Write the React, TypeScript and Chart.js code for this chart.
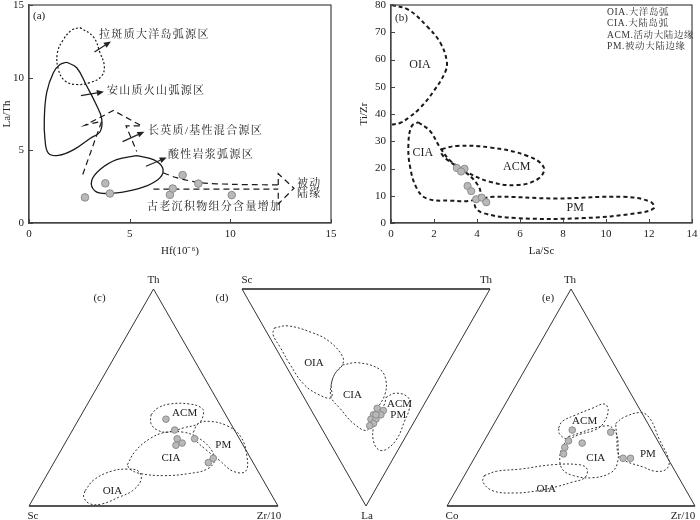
import React, { useEffect, useRef } from "react";
import { Chart, registerables } from "chart.js";

Chart.register(...registerables);

const FONT = "'Liberation Serif', 'Times New Roman', 'Noto Serif CJK SC', 'Noto Sans CJK SC', serif";
const INK = "#222";
const PT_FILL = "#b9b9b9";
const PT_EDGE = "#8c8c8c";

// ---------------- (a) Hf vs La/Th ----------------
const aHf = [2.78, 3.79, 4.02, 7.0, 7.14, 7.63, 8.41, 10.07];
const aLaTh = [1.76, 2.73, 2.03, 1.94, 2.37, 3.3, 2.71, 1.92];
const aRange = { xMin: 0, xMax: 15, xStep: 5, yMin: 0, yMax: 15, yStep: 5 };
const aTholeiite = [[2.53, 13.45], [3.2, 12.8], [3.53, 11.7], [3.74, 10.8], [3.6, 10.1], [3.03, 9.66], [2.37, 9.53], [1.79, 9.77], [1.46, 10.56], [1.41, 11.7], [1.7, 12.6], [2.12, 13.27]];
const aAndesite = [[1.87, 11.06], [2.37, 10.68], [2.86, 9.44], [3.36, 8.08], [3.61, 7.18], [3.53, 6.28], [3.03, 5.82], [2.2, 5.03], [1.46, 4.65], [0.96, 4.81], [0.79, 5.82], [0.76, 7.18], [0.88, 8.98], [1.21, 10.34], [1.54, 10.9]];
const aFelsic = [[5.35, 4.63], [6.18, 4.36], [6.64, 3.79], [6.51, 3.12], [5.84, 2.55], [4.85, 2.17], [3.86, 2.03], [3.28, 2.21], [3.11, 2.89], [3.53, 3.68], [4.35, 4.36]];
const aMixed = [[2.67, 3.34], [3.61, 7.0], [2.78, 6.73], [4.19, 7.74], [5.6, 6.68], [4.82, 6.68], [5.35, 4.92]];
const aPassiveUpper = [[6.67, 3.45], [7.33, 3.12], [8.49, 2.78], [10.15, 2.66], [12.38, 2.62]];
const aPassiveLower = [[6.18, 2.33], [12.38, 2.33]];
const aPassiveHead = [[12.38, 2.62], [12.38, 3.39], [13.16, 2.39], [12.38, 1.31], [12.38, 2.33]];
const aNotes = [
  { x: 0.2, y: 14.26, t: "(a)", size: 11 },
  { x: 3.48, y: 12.9, t: "拉斑质大洋岛弧源区", ls: 1.3 },
  { x: 3.87, y: 9.05, t: "安山质火山弧源区", ls: 1.3 },
  { x: 5.91, y: 6.35, t: "长英质/基性混合源区", ls: 1.3 },
  { x: 6.9, y: 4.66, t: "酸性岩浆弧源区", ls: 1.3 },
  { x: 5.86, y: 1.08, t: "古老沉积物组分含量增加", ls: 1.3 },
  { x: 13.31, y: 2.7, t: "被动", ls: 1.3 },
  { x: 13.31, y: 1.96, t: "陆缘", ls: 1.3 },
];
const aArrows = [[3.25, 11.77, 4.07, 12.49], [2.58, 8.76, 3.72, 9.03], [4.65, 5.6, 5.73, 6.28], [5.81, 3.9, 6.84, 4.5]];

// ---------------- (b) La/Sc vs Ti/Zr ----------------
const bLaSc = [3.06, 3.42, 3.26, 3.56, 3.73, 3.96, 4.22, 4.43];
const bTiZr = [20.2, 19.9, 18.9, 13.6, 11.7, 8.7, 9.3, 7.6];
const bRange = { xMin: 0, xMax: 14, xStep: 2, yMin: 0, yMax: 80, yStep: 10 };
const bOIA = [[0.03, 80], [0.8, 78.3], [1.66, 72.3], [2.28, 66.3], [2.59, 59.6], [2.52, 55.4], [1.97, 48.2], [1.35, 42.2], [0.81, 38.6], [0.42, 36.7], [0, 36.1]];
const bCIA = [[1.27, 37], [1.82, 33.7], [2.28, 27.7], [2.75, 22.9], [3.37, 19.3], [3.99, 14.5], [4.15, 10.8], [3.84, 8.4], [2.75, 8.2], [1.66, 9.0], [1.2, 12.7], [0.89, 20.5], [0.81, 28.9], [0.96, 35.5]];
const bACM = [[2.36, 27.1], [3.06, 28.3], [4.61, 27.7], [6.32, 24.7], [7.1, 20.5], [6.86, 16.3], [5.85, 13.9], [4.61, 15.1], [3.52, 18.7], [2.67, 22.9], [2.36, 25.3]];
const bPM = [[3.99, 8.4], [4.77, 9.6], [7.72, 9.0], [10.82, 9.6], [12.07, 7.8], [12.22, 5.4], [11.44, 3.6], [8.96, 1.8], [5.85, 1.8], [4.3, 3.6], [3.91, 6.0]];
const bNotes = [
  { x: 0.19, y: 75.3, t: "(b)", size: 11 },
  { x: 1.35, y: 58, t: "OIA", size: 12, align: "center" },
  { x: 1.48, y: 25.9, t: "CIA", size: 12, align: "center" },
  { x: 5.85, y: 20.5, t: "ACM", size: 12, align: "center" },
  { x: 8.57, y: 5.4, t: "PM", size: 12, align: "center" },
  { x: 10.05, y: 77.1, t: "OIA.大洋岛弧", size: 9.5, ls: 0.6, color: "#333" },
  { x: 10.05, y: 73.1, t: "CIA.大陆岛弧", size: 9.5, ls: 0.6, color: "#333" },
  { x: 10.05, y: 68.7, t: "ACM.活动大陆边缘", size: 9.5, ls: 0.6, color: "#333" },
  { x: 10.05, y: 64.7, t: "PM.被动大陆边缘", size: 9.5, ls: 0.6, color: "#333" },
];

// ---------------- ternary data: [apex %, right-corner %] ----------------
// (c) Th–Sc–Zr/10 : [Th, Zr/10]
const cPts = [[40, 35], [35, 41], [31, 44], [29, 47], [28, 45], [31, 51], [22, 63], [20, 62]];
const cACM = [[42, 28], [45, 29], [47, 33], [47, 41], [45, 47], [42, 49], [38, 49], [36, 44], [34, 39], [35, 34], [38, 30]];
const cCIA = [[19, 30], [25, 30], [31, 33], [34, 38], [34, 45], [32, 51], [27, 59], [21, 64], [17, 63], [15, 57], [14, 47], [15, 37], [17, 32]];
const cPM = [[34, 49], [38, 49], [39, 53], [37, 61], [32, 69], [23, 76], [16, 79], [16, 74], [21, 66], [26, 58], [31, 51]];
const cOIA = [[7, 19], [12, 20], [16, 25], [17, 31], [16, 36], [12, 39], [7, 38], [4, 34], [1, 29], [1, 24], [4, 20]];
const cLabels = [{ p: [43, 41], t: "ACM" }, { p: [22, 46], t: "CIA" }, { p: [28, 64], t: "PM" }, { p: [7, 30], t: "OIA" }];
const cCorners = ["Th", "Sc", "Zr/10"];

// (d) Sc–Th–La (inverted) : [La, Th]
const dPts = [[55, 27], [56, 29], [58, 27], [58, 24], [60, 22], [60, 24], [62, 22], [63, 20], [58, 25]];
const dOIA = [[18, 4], [17, 10], [20, 18], [24, 23], [31, 25], [35, 23], [39, 18], [44, 14], [50, 11], [49, 7], [44, 3], [35, 2], [27, 2], [21, 2]];
const dCIA = [[35, 23], [34, 30], [37, 37], [42, 37], [49, 33], [57, 25], [65, 18], [62, 14], [55, 12], [50, 11], [44, 14], [39, 18]];
const dACMPM = [[50, 33], [48, 38], [50, 42], [55, 40], [61, 35], [69, 28], [74, 21], [74, 18], [70, 18], [64, 21], [58, 26], [53, 31]];
const dLabels = [{ p: [34, 12], t: "OIA" }, { p: [49, 20], t: "CIA" }, { p: [53, 37], t: "ACM" }, { p: [58, 34], t: "PM" }];
const dCorners = ["La", "Sc", "Th"];

// (e) Th–Co–Zr/10 : [Th, Zr/10]
const ePts = [[35, 33], [30, 34], [27, 34], [24, 35], [29, 40], [34, 49], [22, 60], [22, 63]];
const eACM = [[36, 27], [39, 27], [42, 31], [45, 36], [47, 40], [44, 43], [38, 44], [35, 42], [33, 37], [31, 33], [33, 29]];
const eCIA = [[32, 33], [37, 46], [34, 51], [28, 55], [19, 59], [15, 58], [13, 52], [14, 44], [17, 38], [23, 34], [28, 33]];
const eOIA = [[14, 8], [16, 12], [17, 21], [19, 33], [19, 44], [17, 48], [13, 49], [11, 45], [9, 40], [7, 33], [6, 24], [7, 15], [11, 9]];
const ePM = [[38, 49], [41, 51], [43, 57], [40, 62], [31, 70], [21, 79], [17, 80], [16, 76], [18, 70], [21, 61], [24, 57], [31, 53]];
const eLabels = [{ p: [39, 36], t: "ACM" }, { p: [22, 49], t: "CIA" }, { p: [24, 69], t: "PM" }, { p: [8, 36], t: "OIA" }];
const eCorners = ["Th", "Co", "Zr/10"];

type Note = { x: number; y: number; t: string; size?: number; align?: string; dx?: number; dy?: number; ls?: number; color?: string };

function decor(notes: Note[], arrows: number[][], frame: boolean) {
  return {
    id: "decor",
    afterDatasetsDraw(chart: any) {
      const { ctx, chartArea: ca } = chart;
      const xs = chart.scales.x;
      const ys = chart.scales.y;
      ctx.save();
      if (frame) {
        ctx.strokeStyle = "#444";
        ctx.lineWidth = 1.2;
        ctx.strokeRect(ca.left, ca.top, ca.right - ca.left, ca.bottom - ca.top);
        ctx.lineWidth = 1;
        ctx.beginPath();
        for (const t of xs.ticks) {
          const px = Math.round(xs.getPixelForValue(t.value)) + 0.5;
          ctx.moveTo(px, ca.bottom);
          ctx.lineTo(px, ca.bottom - 4);
        }
        for (const t of ys.ticks) {
          const py = Math.round(ys.getPixelForValue(t.value)) + 0.5;
          ctx.moveTo(ca.left, py);
          ctx.lineTo(ca.left + 4, py);
        }
        ctx.stroke();
      }
      ctx.strokeStyle = INK;
      ctx.fillStyle = INK;
      ctx.lineWidth = 1.2;
      for (const [x1, y1, x2, y2] of arrows) {
        const p1x = xs.getPixelForValue(x1), p1y = ys.getPixelForValue(y1);
        const p2x = xs.getPixelForValue(x2), p2y = ys.getPixelForValue(y2);
        const ang = Math.atan2(p2y - p1y, p2x - p1x);
        const c = Math.cos(ang), s = Math.sin(ang);
        const hl = 7, hw = 3;
        const bx = p2x - hl * c, by = p2y - hl * s;
        ctx.beginPath();
        ctx.moveTo(p1x, p1y);
        ctx.lineTo(bx, by);
        ctx.stroke();
        ctx.beginPath();
        ctx.moveTo(p2x, p2y);
        ctx.lineTo(bx - hw * s, by + hw * c);
        ctx.lineTo(bx + hw * s, by - hw * c);
        ctx.closePath();
        ctx.fill();
      }
      for (const n of notes) {
        ctx.font = `${n.size ?? 11}px ${FONT}`;
        ctx.fillStyle = n.color ?? INK;
        ctx.textAlign = (n.align ?? "left") as CanvasTextAlign;
        ctx.textBaseline = "middle";
        (ctx as any).letterSpacing = `${n.ls ?? 0}px`;
        ctx.fillText(n.t, xs.getPixelForValue(n.x) + (n.dx ?? 0), ys.getPixelForValue(n.y) + (n.dy ?? 0));
      }
      (ctx as any).letterSpacing = "0px";
      ctx.restore();
    },
  };
}

function axis(min: number, max: number, step: number, title: string, titlePad: any, isY: boolean, size: number) {
  return {
    type: "linear",
    min,
    max,
    ticks: { stepSize: step, font: { family: FONT, size: 11 }, color: INK, padding: 5, maxRotation: 0, autoSkip: false },
    grid: { display: false, drawTicks: false },
    border: { display: true, color: "#444", width: 1.2 },
    title: { display: true, text: title, font: { family: FONT, size: 11 }, color: INK, padding: titlePad },
    afterFit: (s: any) => {
      if (isY) {
        s.width = size;
        s.paddingTop = 0;
        s.paddingBottom = 0;
      } else {
        s.height = size;
        s.paddingLeft = 0;
        s.paddingRight = 0;
      }
    },
  };
}

const xy = (p: number[]) => ({ x: p[0], y: p[1] });

function loop(pts: number[][], conv: (p: number[]) => any, dash: number[], width: number, closed = true, tension = 0.4) {
  const arr = closed ? [...pts, pts[0]] : pts;
  return {
    data: arr.map(conv),
    showLine: true,
    borderColor: "#1a1a1a",
    borderWidth: width,
    borderDash: dash,
    tension,
    pointRadius: 0,
    clip: false,
  };
}

function pointsSet(data: any[], r: number) {
  return {
    data,
    showLine: false,
    pointRadius: r,
    pointBackgroundColor: PT_FILL,
    pointBorderColor: PT_EDGE,
    pointBorderWidth: 1,
    clip: false,
  };
}

function chartA(canvas: HTMLCanvasElement) {
  return new Chart(canvas, {
    type: "scatter",
    data: {
      datasets: [
        pointsSet(aHf.map((x, i) => ({ x, y: aLaTh[i] })), 3.8),
        loop(aTholeiite, xy, [2, 2], 1.2),
        loop(aAndesite, xy, [], 1.3),
        loop(aFelsic, xy, [], 1.3),
        loop(aMixed, xy, [6, 4], 1.2, false, 0),
        loop(aPassiveUpper, xy, [6, 4], 1.2, false, 0.3),
        loop(aPassiveLower, xy, [6, 4], 1.2, false, 0),
        loop(aPassiveHead, xy, [6, 4], 1.2, false, 0),
      ] as any,
    },
    options: {
      responsive: false,
      animation: false,
      devicePixelRatio: 1,
      events: [],
      layout: { padding: { left: 0, top: 3, right: 14, bottom: 0 } },
      plugins: { legend: { display: false }, tooltip: { enabled: false } },
      scales: {
        x: axis(aRange.xMin, aRange.xMax, aRange.xStep, "Hf(10⁻⁶)", { top: 0, bottom: 2 }, false, 37),
        y: axis(aRange.yMin, aRange.yMax, aRange.yStep, "La/Th", { top: 1, bottom: 0 }, true, 29),
      } as any,
    },
    plugins: [decor(aNotes, aArrows, true)],
  } as any);
}

function chartB(canvas: HTMLCanvasElement) {
  return new Chart(canvas, {
    type: "scatter",
    data: {
      datasets: [
        pointsSet(bLaSc.map((x, i) => ({ x, y: bTiZr[i] })), 3.6),
        loop(bOIA, xy, [4, 3], 2, false),
        loop(bCIA, xy, [4, 3], 2),
        loop(bACM, xy, [4, 3], 2),
        loop(bPM, xy, [4, 3], 2),
      ] as any,
    },
    options: {
      responsive: false,
      animation: false,
      devicePixelRatio: 1,
      events: [],
      layout: { padding: { left: 0, top: 2, right: 8, bottom: 0 } },
      plugins: { legend: { display: false }, tooltip: { enabled: false } },
      scales: {
        x: axis(bRange.xMin, bRange.xMax, bRange.xStep, "La/Sc", { top: 0, bottom: 2 }, false, 37),
        y: axis(bRange.yMin, bRange.yMax, bRange.yStep, "Ti/Zr", { top: 8, bottom: 0 }, true, 41),
      } as any,
    },
    plugins: [decor(bNotes, [], true)],
  } as any);
}

const tern = (p: number[]) => ({ x: (p[1] + p[0] / 2) / 100, y: (0.866 * p[0]) / 100 });

type TernOpts = {
  pad: { left: number; right: number; top: number; bottom: number };
  reverse: boolean;
  pts: number[][];
  outlines: number[][][];
  labels: { p: number[]; t: string }[];
  corners: string[]; // apex, left, right
  cornerOffsets: number[][]; // [dx, dy] for apex, left, right
  panel: { t: string; at: number; dx: number; dy: number };
};

function chartTern(canvas: HTMLCanvasElement, o: TernOpts) {
  const apex = [100, 0], left = [0, 0], right = [0, 100];
  const cornerPts = [apex, left, right];
  const notes: Note[] = [
    ...o.labels.map((l) => ({ ...tern(l.p), t: l.t, size: 11, align: "center" })),
    ...o.corners.map((t, i) => ({ ...tern(cornerPts[i]), t, size: 11, align: "center", dx: o.cornerOffsets[i][0], dy: o.cornerOffsets[i][1] })),
    { ...tern(cornerPts[o.panel.at]), t: o.panel.t, size: 11, align: "center", dx: o.panel.dx, dy: o.panel.dy },
  ];
  return new Chart(canvas, {
    type: "scatter",
    data: {
      datasets: [
        pointsSet(o.pts.map(tern), 3.3),
        ...o.outlines.map((ol) => ({ ...loop(ol, tern, [2, 2], 1), borderColor: "#333" })),
        { ...loop([left, apex, right], tern, [], 1, false, 0), borderColor: "#333" },
        { ...loop([left, right], tern, [], 1.8, false, 0), borderColor: "#555" },
      ] as any,
    },
    options: {
      responsive: false,
      animation: false,
      devicePixelRatio: 1,
      events: [],
      layout: { padding: o.pad },
      plugins: { legend: { display: false }, tooltip: { enabled: false } },
      scales: {
        x: { type: "linear", display: false, min: 0, max: 1 },
        y: { type: "linear", display: false, min: 0, max: 0.866, reverse: o.reverse },
      } as any,
    },
    plugins: [decor(notes, [], false)],
  } as any);
}

export default function App() {
  const ra = useRef<HTMLCanvasElement>(null);
  const rb = useRef<HTMLCanvasElement>(null);
  const rc = useRef<HTMLCanvasElement>(null);
  const rd = useRef<HTMLCanvasElement>(null);
  const re = useRef<HTMLCanvasElement>(null);

  useEffect(() => {
    document.body.style.margin = "0";
    const charts = [
      chartA(ra.current!),
      chartB(rb.current!),
      chartTern(rc.current!, {
        pad: { left: 29, right: 12, top: 24, bottom: 14 },
        reverse: false,
        pts: cPts,
        outlines: [cACM, cCIA, cPM, cOIA],
        labels: cLabels,
        corners: cCorners,
        cornerOffsets: [[0, -9], [4, 10], [-9, 10]],
        panel: { t: "(c)", at: 0, dx: -54, dy: 9 },
      }),
      chartTern(rd.current!, {
        pad: { left: 27, right: 15, top: 24, bottom: 14 },
        reverse: true,
        pts: dPts,
        outlines: [dOIA, dCIA, dACMPM],
        labels: dLabels,
        corners: dCorners,
        cornerOffsets: [[1, 10], [5, -9], [-4, -9]],
        panel: { t: "(d)", at: 1, dx: -20, dy: 9 },
      }),
      chartTern(re.current!, {
        pad: { left: 27, right: 4, top: 24, bottom: 14 },
        reverse: false,
        pts: ePts,
        outlines: [eACM, eCIA, eOIA, ePM],
        labels: eLabels,
        corners: eCorners,
        cornerOffsets: [[-1, -9], [5, 10], [-12, 10]],
        panel: { t: "(e)", at: 0, dx: -23, dy: 9 },
      }),
    ];
    return () => charts.forEach((c) => c.destroy());
  }, []);

  const pos = (l: number, t: number): React.CSSProperties => ({ position: "absolute", left: l, top: t });
  return (
    <div style={{ position: "absolute", left: 0, top: 0, width: 700, height: 520, background: "#fff", overflow: "hidden" }}>
      <canvas ref={ra} width={345} height={260} style={pos(0, 0)} />
      <canvas ref={rb} width={350} height={260} style={pos(350, 0)} />
      <canvas ref={rc} width={290} height={255} style={pos(0, 265)} />
      <canvas ref={rd} width={290} height={255} style={pos(215, 265)} />
      <canvas ref={re} width={280} height={255} style={pos(420, 265)} />
    </div>
  );
}
